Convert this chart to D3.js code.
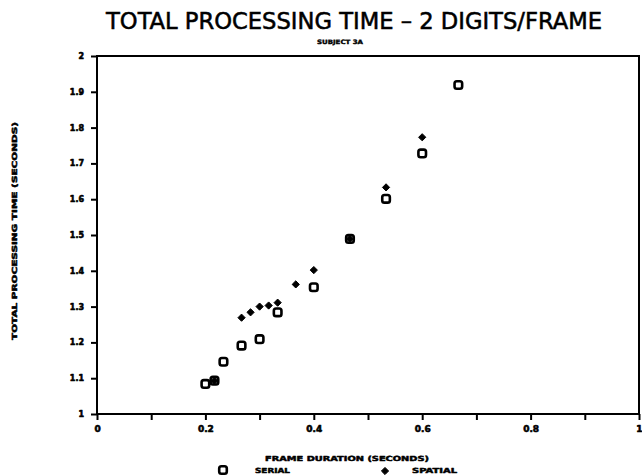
<!DOCTYPE html>
<html>
<head>
<meta charset="utf-8">
<script src="https://cdn.jsdelivr.net/npm/d3@7"></script>
<style>
  html, body { margin: 0; padding: 0; background: #fff; }
  svg { display: block; }
  text { fill: #000; }
</style>
</head>
<body>
<svg id="chart" width="642" height="476"></svg>
<script>
// Total processing time vs frame duration, subject 3A
const serialX = [0.2, 0.2167, 0.2333, 0.2667, 0.3, 0.3333, 0.4, 0.4667, 0.5333, 0.6, 0.6667];
const serialY = [1.084, 1.093, 1.146, 1.191, 1.209, 1.284, 1.354, 1.489, 1.601, 1.728, 1.919];
const spatialX = [0.2167, 0.2667, 0.2833, 0.3, 0.3167, 0.3333, 0.3667, 0.4, 0.4667, 0.5333, 0.6];
const spatialY = [1.093, 1.269, 1.284, 1.300, 1.303, 1.311, 1.362, 1.402, 1.489, 1.633, 1.773];
const xTicks = [0, 0.1, 0.2, 0.3, 0.4, 0.5, 0.6, 0.7, 0.8, 0.9, 1];
const xTickLabels = ["0", "", "0.2", "", "0.4", "", "0.6", "", "0.8", "", "1"];
const yTicks = [1, 1.1, 1.2, 1.3, 1.4, 1.5, 1.6, 1.7, 1.8, 1.9, 2];
const yTickLabels = ["1", "1.1", "1.2", "1.3", "1.4", "1.5", "1.6", "1.7", "1.8", "1.9", "2"];

const svg = d3.select("#chart");
const plotLeft = 97, plotRight = 639, plotTop = 56, plotBottom = 414;

const x = d3.scaleLinear().domain([0, 1]).range([plotLeft, plotRight]);
const y = d3.scaleLinear().domain([1, 2]).range([plotBottom, plotTop]);

const font = "'DejaVu Sans', sans-serif";

// heavy, slightly smeared lettering
function heavy(sel, w) {
  return sel.attr("font-family", font).attr("font-weight", "bold")
    .attr("stroke", "#000").attr("stroke-width", w).attr("stroke-linejoin", "round");
}

// plot frame
svg.append("rect")
  .attr("x", plotLeft).attr("y", plotTop)
  .attr("width", plotRight - plotLeft).attr("height", plotBottom - plotTop)
  .attr("fill", "none").attr("stroke", "#000").attr("stroke-width", 2);

// x axis
const xAxis = d3.axisBottom(x)
  .tickValues(xTicks)
  .tickSize(6)
  .tickPadding(6)
  .tickFormat((d, i) => xTickLabels[i]);
const gx = svg.append("g").attr("transform", `translate(0,${plotBottom})`).call(xAxis);
gx.select(".domain").remove();
gx.selectAll(".tick line").attr("stroke", "#000").attr("stroke-width", 2);
heavy(gx.selectAll(".tick text"), 0.6).attr("font-size", 9);
gx.selectAll(".tick text").filter((d, i) => i === xTicks.length - 1)
  .attr("text-anchor", "end").attr("dx", 3);

// y axis
const yAxis = d3.axisLeft(y)
  .tickValues(yTicks)
  .tickSize(6)
  .tickPadding(7)
  .tickFormat((d, i) => yTickLabels[i]);
const gy = svg.append("g").attr("transform", `translate(${plotLeft},0)`).call(yAxis);
gy.select(".domain").remove();
gy.selectAll(".tick line").attr("stroke", "#000").attr("stroke-width", 2);
heavy(gy.selectAll(".tick text"), 0.6).attr("font-size", 8);

// titles
svg.append("text")
  .attr("x", 354).attr("y", 29)
  .attr("text-anchor", "middle")
  .attr("font-family", "'DejaVu Sans Condensed', 'DejaVu Sans', sans-serif")
  .attr("font-size", 23)
  .attr("stroke", "#000").attr("stroke-width", 0.5)
  .attr("textLength", 496).attr("lengthAdjust", "spacingAndGlyphs")
  .text("TOTAL PROCESSING TIME \u2013 2 DIGITS/FRAME");

heavy(svg.append("text"), 0.4)
  .attr("x", 340).attr("y", 44)
  .attr("text-anchor", "middle")
  .attr("font-size", 6)
  .attr("textLength", 46).attr("lengthAdjust", "spacingAndGlyphs")
  .text("SUBJECT 3A");

heavy(svg.append("text"), 0.5)
  .attr("x", 347).attr("y", 461)
  .attr("text-anchor", "middle")
  .attr("font-size", 7)
  .attr("textLength", 164).attr("lengthAdjust", "spacingAndGlyphs")
  .text("FRAME DURATION (SECONDS)");

heavy(svg.append("text"), 0.5)
  .attr("transform", "translate(17,231) rotate(-90)")
  .attr("text-anchor", "middle")
  .attr("font-size", 7)
  .attr("textLength", 218).attr("lengthAdjust", "spacingAndGlyphs")
  .text("TOTAL PROCESSING TIME (SECONDS)");

// markers
function drawSquare(g, cx, cy) {
  g.append("rect")
    .attr("x", cx - 3.8).attr("y", cy - 3.8)
    .attr("width", 7.6).attr("height", 7.6)
    .attr("rx", 2.2)
    .attr("fill", "#fff").attr("stroke", "#000").attr("stroke-width", 2.6);
}
// squat diamond, as wide as it is tall
const squatDiamond = {
  draw(ctx, size) {
    const r = Math.sqrt(size / 2);
    ctx.moveTo(0, -r);
    ctx.lineTo(r, 0);
    ctx.lineTo(0, r);
    ctx.lineTo(-r, 0);
    ctx.closePath();
  }
};
const diamond = d3.symbol().type(squatDiamond).size(26);

const gs = svg.append("g");
serialX.forEach((v, i) => drawSquare(gs, x(v), y(serialY[i])));

svg.append("g").selectAll("path")
  .data(spatialX.map((v, i) => [v, spatialY[i]]))
  .join("path")
  .attr("d", diamond)
  .attr("transform", d => `translate(${x(d[0])},${y(d[1])})`)
  .attr("fill", "#000").attr("stroke", "#000").attr("stroke-width", 1)
  .attr("stroke-linejoin", "round");

// legend
const gl = svg.append("g");
drawSquare(gl, 223, 470);
heavy(gl.append("text"), 0.5)
  .attr("x", 255).attr("y", 473)
  .attr("font-size", 7)
  .attr("textLength", 35).attr("lengthAdjust", "spacingAndGlyphs")
  .text("SERIAL");
gl.append("path")
  .attr("d", diamond)
  .attr("transform", "translate(385,471)")
  .attr("fill", "#000").attr("stroke", "#000").attr("stroke-width", 1);
heavy(gl.append("text"), 0.5)
  .attr("x", 412).attr("y", 473)
  .attr("font-size", 7)
  .attr("textLength", 45).attr("lengthAdjust", "spacingAndGlyphs")
  .text("SPATIAL");
</script>
</body>
</html>
